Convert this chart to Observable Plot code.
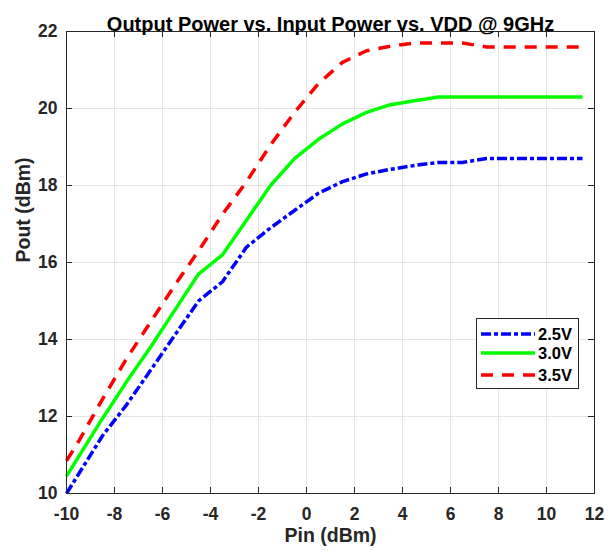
<!DOCTYPE html>
<html><head><meta charset="utf-8">
<script src="https://cdn.jsdelivr.net/npm/d3@7"></script>
<script src="https://cdn.jsdelivr.net/npm/@observablehq/plot@0.6"></script>
<style>
body{margin:0;background:#fff;}
#wrap{position:relative;width:614px;height:553px;}
.leg{position:absolute;left:476px;top:318px;width:103px;height:71px;border:1px solid #262626;background:#fff;box-sizing:border-box;font:bold 16.5px "Liberation Sans",Arial,sans-serif;color:#000;}
.row{position:absolute;left:0;height:20px;display:flex;align-items:center;}
.row svg{margin-left:4px;}
.row span{margin-left:3px;}
</style></head><body><div id="wrap"></div>
<script>
const title = "Output Power vs. Input Power vs. VDD @ 9GHz";
const xLabel = "Pin (dBm)";
const yLabel = "Pout (dBm)";
const xTicks = [-10,-8,-6,-4,-2,0,2,4,6,8,10,12];
const yTicks = [10,12,14,16,18,20,22];
const seriesNames = ["2.5V","3.0V","3.5V"];
const pin = [-10,-9.5,-8.5,-7.5,-6.5,-5.5,-4.5,-3.5,-2.5,-1.5,-0.5,0.5,1.5,2.5,3.5,4.5,5.5,6.5,7.5,8.5,9.5,10.5,11.5];
const vdd25 = [10.0,10.5,11.5,12.3,13.2,14.1,15.0,15.5,16.4,16.9,17.35,17.8,18.1,18.3,18.42,18.52,18.6,18.6,18.7,18.7,18.7,18.7,18.7];
const vdd30 = [10.45,10.95,11.95,12.9,13.8,14.75,15.7,16.2,17.1,18.0,18.7,19.2,19.6,19.9,20.1,20.2,20.3,20.3,20.3,20.3,20.3,20.3,20.3];
const vdd35 = [10.85,11.35,12.45,13.5,14.45,15.4,16.3,17.25,18.1,19.05,19.9,20.65,21.2,21.5,21.62,21.7,21.7,21.7,21.6,21.6,21.6,21.6,21.6];

const colors = ["#0000ff","#00ff00","#ff0000"];
const dashes = ["10,3,4,3", null, "12,9"];
const values = [vdd25, vdd30, vdd35];
const rows = seriesNames.map((s,k)=>pin.map((p,i)=>({pin:p, pout:values[k][i], s})));

const W=614, H=553, mt=31, mb=60, ml=66, mr=20;
const fw = W-ml-mr, fh = H-mt-mb;
const font = '"Liberation Sans", Arial, Helvetica, sans-serif';
const fmt = d => String(d);

const lineMarks = rows.map((r,k)=>Plot.line(r, {x:"pin", y:"pout", stroke:colors[k], strokeWidth:3.5, strokeDasharray:dashes[k], strokeLinecap:"butt", strokeLinejoin:"round"}));

const chart = Plot.plot({
  width:W, height:H, marginTop:mt, marginBottom:mb, marginLeft:ml, marginRight:mr,
  style:{fontFamily:font, background:"#fff", color:"#262626"},
  x:{domain:[-10,12]},
  y:{domain:[10,22]},
  marks:[
    Plot.gridX(xTicks, {stroke:"#e5e5e5", strokeOpacity:1, strokeWidth:1}),
    Plot.gridY(yTicks, {stroke:"#e5e5e5", strokeOpacity:1, strokeWidth:1}),
    ...lineMarks,
    Plot.tickX(xTicks, {x:d=>d, insetTop:fh-6, stroke:"#262626"}),
    Plot.tickX(xTicks, {x:d=>d, insetBottom:fh-6, stroke:"#262626"}),
    Plot.tickY(yTicks, {y:d=>d, insetRight:fw-6, stroke:"#262626"}),
    Plot.tickY(yTicks, {y:d=>d, insetLeft:fw-6, stroke:"#262626"}),
    Plot.frame({stroke:"#262626", strokeWidth:1}),
    Plot.axisX(xTicks, {tickSize:0, tickPadding:14, tickFormat:fmt, fontSize:17.5, fontWeight:"bold", fill:"#262626", label:null}),
    Plot.axisY(yTicks, {tickSize:0, tickPadding:9, tickFormat:fmt, fontSize:17.5, fontWeight:"bold", fill:"#262626", label:null}),
    Plot.text([title], {frameAnchor:"top", dy:-15, fontSize:20, fontWeight:"bold", fill:"#000"}),
    Plot.text([xLabel], {frameAnchor:"bottom", dy:48, fontSize:19.5, fontWeight:"bold", fill:"#262626"}),
    Plot.text([yLabel], {frameAnchor:"left", dx:-43, rotate:-90, fontSize:19.5, fontWeight:"bold", fill:"#262626"})
  ]
});
const wrap = document.getElementById("wrap");
wrap.appendChild(chart);

const leg = document.createElement("div");
leg.className = "leg";
const tops = [5, 24, 46];
seriesNames.forEach((s,k)=>{
  const r = document.createElement("div");
  r.className = "row";
  r.style.top = tops[k]+"px";
  r.innerHTML = `<svg width="54" height="8"><line x1="0" y1="4" x2="54" y2="4" stroke="${colors[k]}" stroke-width="3.5" ${dashes[k]?`stroke-dasharray="${dashes[k]}"`:""}/></svg><span>${s}</span>`;
  leg.appendChild(r);
});
wrap.appendChild(leg);
</script>
</body></html>
